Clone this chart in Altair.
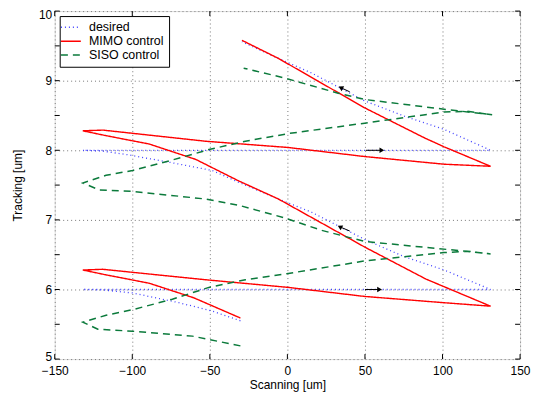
import altair as alt
import pandas as pd

series_names = ["desired", "MIMO control", "SISO control"]
colors = ["#4040ff", "#ff0000", "#0b7a3b"]
dashes = [[1, 3], [1, 0], [7, 5]]

desired_x = [-30.3, -48.5, -69.9, -99.8, -120, -131.9, 131, 101, 75.4, 49.8, 15.6, -5.8,
             -31.4, -48.5, -74.2, -104, -120, -131.9, 131, 101, 75.4, 49.8, 15.6, -5.8, -29.3]
desired_y = [5.55, 5.69, 5.81, 5.95, 5.995, 6.0, 6.0, 6.28, 6.47, 6.72, 7.11, 7.30,
             7.54, 7.71, 7.82, 7.94, 7.99, 8.0, 8.0, 8.30, 8.49, 8.71, 9.11, 9.32, 9.56]

mimo_x = [-30.3, -60.3, -89.1, -116.9, -131.9, -119, -52.8, 0.6, 49.8, 101, 131, 101, 89.3, 49.8,
          -5.8, -31.4, -59.2, -89.1, -116.9, -131.9, -119, -52.8, 0.6, 49.8, 101, 131, 101, 88.2,
          49.8, -5.8, -29.3]
mimo_y = [5.59, 5.88, 6.09, 6.21, 6.28, 6.29, 6.14, 6.03, 5.90, 5.81, 5.76, 6.04, 6.15, 6.61,
          7.30, 7.56, 7.87, 8.09, 8.21, 8.28, 8.29, 8.13, 8.04, 7.91, 7.80, 7.77, 8.05, 8.18,
          8.61, 9.32, 9.58]

siso_x = [-30.3, -61.3, -99.8, -122.2, -131.9, -116.9, -99.8, -74.2, -50.6, -27.1, 0.6, 49.8,
          79.7, 101, 116, 131, 105.3, 49.8, 22, -2, -31.4, -52.8, -99.8, -121.2, -131.9,
          -116.9, -99.8, -74.2, -50.6, -27.1, 0.6, 49.8, 101, 116, 132, 101, 49.8, 32.7, -2, -28.2]
siso_y = [5.19, 5.33, 5.40, 5.43, 5.53, 5.63, 5.71, 5.86, 6.03, 6.14, 6.23, 6.41,
          6.48, 6.53, 6.55, 6.51, 6.57, 6.69, 6.85, 7.03, 7.21, 7.30, 7.41, 7.43, 7.53,
          7.64, 7.71, 7.86, 8.01, 8.13, 8.24, 8.39, 8.55, 8.56, 8.51, 8.59, 8.73, 8.82, 9.04, 9.18]

arrow_tail_x = [50.6, 50.0, 40.2, 40.2]
arrow_tail_y = [8.0, 6.0, 8.84, 6.84]
arrow_head_x = [60.9, 59.4, 34.4, 33.8]
arrow_head_y = [8.0, 6.0, 8.90, 6.90]
arrow_angle = [0, 0, 208, 208]

x_ticks = [-150, -100, -50, 0, 50, 100, 150]
y_ticks = [5, 5.5, 6, 6.5, 7, 7.5, 8, 8.5, 9, 9.5, 10]

W, H = 468, 350

rows = []
for name, xs, ys in [("desired", desired_x, desired_y),
                     ("MIMO control", mimo_x, mimo_y),
                     ("SISO control", siso_x, siso_y)]:
    for i, (a, b) in enumerate(zip(xs, ys)):
        rows.append({"series": name, "x": a, "y": b, "idx": i})
df = pd.DataFrame(rows)

xscale = alt.Scale(domain=[-150, 150], nice=False, zero=False)
yscale = alt.Scale(domain=[5, 10], nice=False, zero=False)

xaxis = alt.Axis(values=x_ticks, grid=True, gridDash=[1, 3], gridColor="#777777", gridOpacity=1,
                 domain=False, ticks=False, labelPadding=7, labelFontSize=12, labelFlush=False,
                 title="Scanning [um]", titleFontSize=12, titleFontWeight="normal",
                 titleX=W / 2, titleY=26, titleBaseline="middle",
                 labelColor="black", titleColor="black", format="~f")
yaxis = alt.Axis(values=y_ticks, grid=True, gridDash=[1, 3], gridColor="#777777", gridOpacity=1,
                 domain=False, ticks=False, labelPadding=3, labelFontSize=12, labelFlush=False,
                 labelOffset={"expr": "datum.value == 10 ? 3 : (datum.value == 5 ? -3 : 0)"},
                 title="Tracking [um]", titleFontSize=12, titleFontWeight="normal",
                 titleX=-37, titleY=H / 2, titleBaseline="middle",
                 labelColor="black", titleColor="black", format="~f")

leg = alt.Legend(title=None, orient="none", legendX=5, legendY=5,
                 fillColor="white", strokeColor="black", padding=5,
                 symbolType="M-2,0L2,0", symbolSize=100,
                 symbolStrokeWidth=1.5, labelFontSize=12.5,
                 labelColor="black", rowPadding=1, labelOffset=12,
                 cornerRadius=0)
color_enc = alt.Color("series:N", scale=alt.Scale(domain=series_names, range=colors), legend=leg)
dash_enc = alt.StrokeDash("series:N", scale=alt.Scale(domain=series_names, range=dashes), legend=leg)

base = alt.Chart(df)
layers = []
widths = {"desired": 1.3, "MIMO control": 1.4, "SISO control": 1.5}
for name in series_names:
    lay = base.transform_filter(alt.datum.series == name).mark_line(
        strokeWidth=widths[name]).encode(
        x=alt.X("x:Q", scale=xscale, axis=xaxis),
        y=alt.Y("y:Q", scale=yscale, axis=yaxis),
        color=color_enc,
        strokeDash=dash_enc,
        order=alt.Order("idx:Q"),
    )
    layers.append(lay)

arrows = pd.DataFrame({"tx": arrow_tail_x, "ty": arrow_tail_y,
                       "hx": arrow_head_x, "hy": arrow_head_y, "ang": arrow_angle})
shaft = alt.Chart(arrows).mark_rule(color="black", strokeWidth=1).encode(
    x=alt.X("tx:Q", scale=xscale), y=alt.Y("ty:Q", scale=yscale),
    x2="hx:Q", y2="hy:Q")
heads = alt.Chart(arrows).mark_point(shape="triangle-right", filled=True, color="black",
                                      size=30, opacity=1).encode(
    x=alt.X("hx:Q", scale=xscale), y=alt.Y("hy:Q", scale=yscale),
    angle=alt.Angle("ang:Q", scale=None))

xt = pd.DataFrame({"t": x_ticks})
yt = pd.DataFrame({"t": y_ticks})
xtick_b = alt.Chart(xt).mark_rule(color="black", strokeWidth=1).encode(
    x=alt.X("t:Q", scale=xscale), y=alt.value(H), y2=alt.value(H - 5))
xtick_t = alt.Chart(xt).mark_rule(color="black", strokeWidth=1).encode(
    x=alt.X("t:Q", scale=xscale), y=alt.value(0), y2=alt.value(5))
ytick_l = alt.Chart(yt).mark_rule(color="black", strokeWidth=1).encode(
    y=alt.Y("t:Q", scale=yscale), x=alt.value(0), x2=alt.value(5))
ytick_r = alt.Chart(yt).mark_rule(color="black", strokeWidth=1).encode(
    y=alt.Y("t:Q", scale=yscale), x=alt.value(W), x2=alt.value(W - 5))

chart = alt.layer(*layers, shaft, heads, xtick_b, xtick_t, ytick_l, ytick_r).properties(
    width=W, height=H,
    autosize=alt.AutoSizeParams(type="none"),
    padding={"left": 47, "top": 2, "right": 12, "bottom": 32},
    background="white",
).configure_view(stroke="black", strokeWidth=1).configure(
    font="Liberation Sans")

chart.save("out.html", embed_options={"renderer": "svg", "actions": False})
